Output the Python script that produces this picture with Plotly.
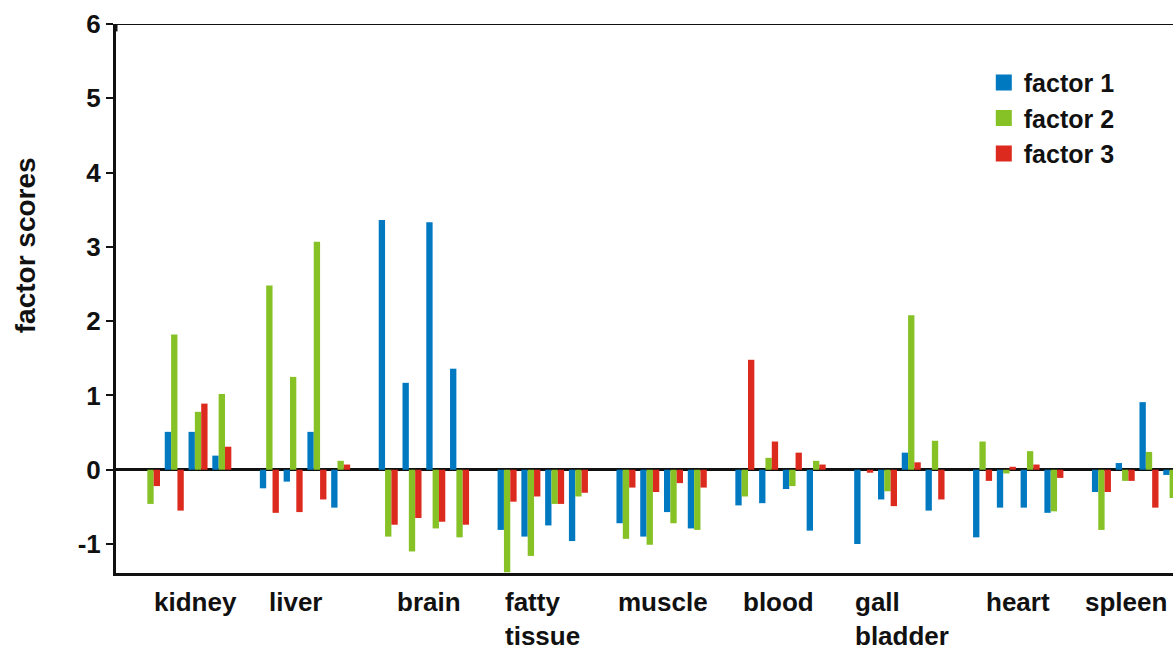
import plotly.graph_objects as go

tissues = ["kidney", "liver", "brain", "fatty<br>tissue", "muscle", "blood",
           "gall<br>bladder", "heart", "spleen"]
samples_per_tissue = 4

factor1 = [0.00, 0.51, 0.51, 0.19,
           -0.25, -0.16, 0.51, -0.51,
           3.36, 1.17, 3.33, 1.36,
           -0.81, -0.90, -0.75, -0.96,
           -0.72, -0.90, -0.57, -0.79,
           -0.48, -0.45, -0.26, -0.82,
           -1.00, -0.40, 0.23, -0.55,
           -0.91, -0.51, -0.51, -0.58,
           -0.30, 0.09, 0.91, -0.07]
factor2 = [-0.46, 1.82, 0.78, 1.02,
           2.48, 1.25, 3.07, 0.12,
           -0.90, -1.10, -0.79, -0.91,
           -1.38, -1.16, -0.46, -0.36,
           -0.93, -1.01, -0.72, -0.81,
           -0.36, 0.16, -0.22, 0.12,
           0.00, -0.29, 2.08, 0.39,
           0.38, -0.05, 0.25, -0.56,
           -0.81, -0.15, 0.24, -0.38]
factor3 = [-0.22, -0.55, 0.89, 0.31,
           -0.58, -0.57, -0.40, 0.07,
           -0.74, -0.65, -0.70, -0.74,
           -0.43, -0.36, -0.46, -0.31,
           -0.24, -0.30, -0.18, -0.24,
           1.48, 0.38, 0.23, 0.07,
           -0.04, -0.49, 0.10, -0.40,
           -0.15, 0.04, 0.07, -0.11,
           -0.30, -0.15, -0.51, None]

series_names = ["factor 1", "factor 2", "factor 3"]
colors = ["#0079C1", "#86C226", "#DD2A1E"]
y_ticks = [-1, 0, 1, 2, 3, 4, 5, 6]
y_tick_labels = ["-1", "0", "1", "2", "3", "4", "5", "6"]

# slot positions: 4 samples per tissue, one empty slot between tissues
slots = [t * (samples_per_tissue + 1) + s
         for t in range(len(tissues)) for s in range(samples_per_tissue)]

FONT = "Liberation Sans, Arial, sans-serif"

fig = go.Figure()
for name, vals, col in zip(series_names, [factor1, factor2, factor3], colors):
    fig.add_trace(go.Bar(x=slots, y=vals, name=name, marker_color=col,
                         marker_line_width=0, showlegend=False))
for name, col in zip(series_names, colors):
    fig.add_trace(go.Scatter(x=[None], y=[None], mode="markers", name=name,
                             marker=dict(symbol="square", size=18, color=col)))

# plot area in window: x 116..1173, y 24..573
plot_left, plot_w = 116, 1057
label_px = [152, 267, 395, 503, 616, 741, 853, 984, 1083]
annotations = []
for lab, px in zip(tissues, label_px):
    annotations.append(dict(text=lab, x=(px - plot_left) / plot_w, xref="paper",
                            y=-0.022, yref="paper", xanchor="left", yanchor="top",
                            align="left", showarrow=False,
                            font=dict(family=FONT, size=26, color="#111", weight="bold")))
annotations.append(dict(text="factor scores", x=(25 - plot_left) / plot_w, xref="paper",
                        y=0.597, yref="paper", textangle=-90, showarrow=False,
                        xanchor="center", yanchor="middle",
                        font=dict(family=FONT, size=28, color="#111", weight="bold")))

fig.update_layout(
    width=1173, height=649,
    margin=dict(l=116, r=0, t=24, b=76),
    paper_bgcolor="white", plot_bgcolor="white",
    barmode="group", bargap=0.2, bargroupgap=0,
    showlegend=True,
    legend=dict(x=0.821, xanchor="left", y=0.935, yanchor="top",
                font=dict(family=FONT, size=25, color="#111", weight="bold"),
                bgcolor="rgba(0,0,0,0)", itemsizing="trace", tracegroupgap=0),
    annotations=annotations,
    shapes=[
        dict(type="line", xref="paper", x0=0, x1=1, yref="y", y0=6, y1=6,
             line=dict(color="#111", width=2)),
        dict(type="line", xref="paper", x0=0, x1=0, yref="y", y0=5.9, y1=6.17,
             line=dict(color="#111", width=3)),
    ],
)
fig.update_xaxes(range=[-1.451, 43.01], showgrid=False, zeroline=False,
                 showticklabels=False, ticks="",
                 showline=True, linecolor="#111", linewidth=3)
fig.update_yaxes(range=[-1.39, 6], showgrid=False,
                 zeroline=True, zerolinecolor="#111", zerolinewidth=3,
                 showline=True, linecolor="#111", linewidth=3,
                 tickvals=y_ticks, ticktext=y_tick_labels,
                 ticks="outside", ticklen=7, tickwidth=2, tickcolor="#111",
                 tickfont=dict(family=FONT, size=26, color="#111", weight="bold"))

fig.write_html(
    "out.html",
    config={"displayModeBar": False},
    post_script="document.body.style.margin='0';"
                "document.documentElement.style.overflow='hidden';"
                "document.body.style.overflow='hidden';",
)
